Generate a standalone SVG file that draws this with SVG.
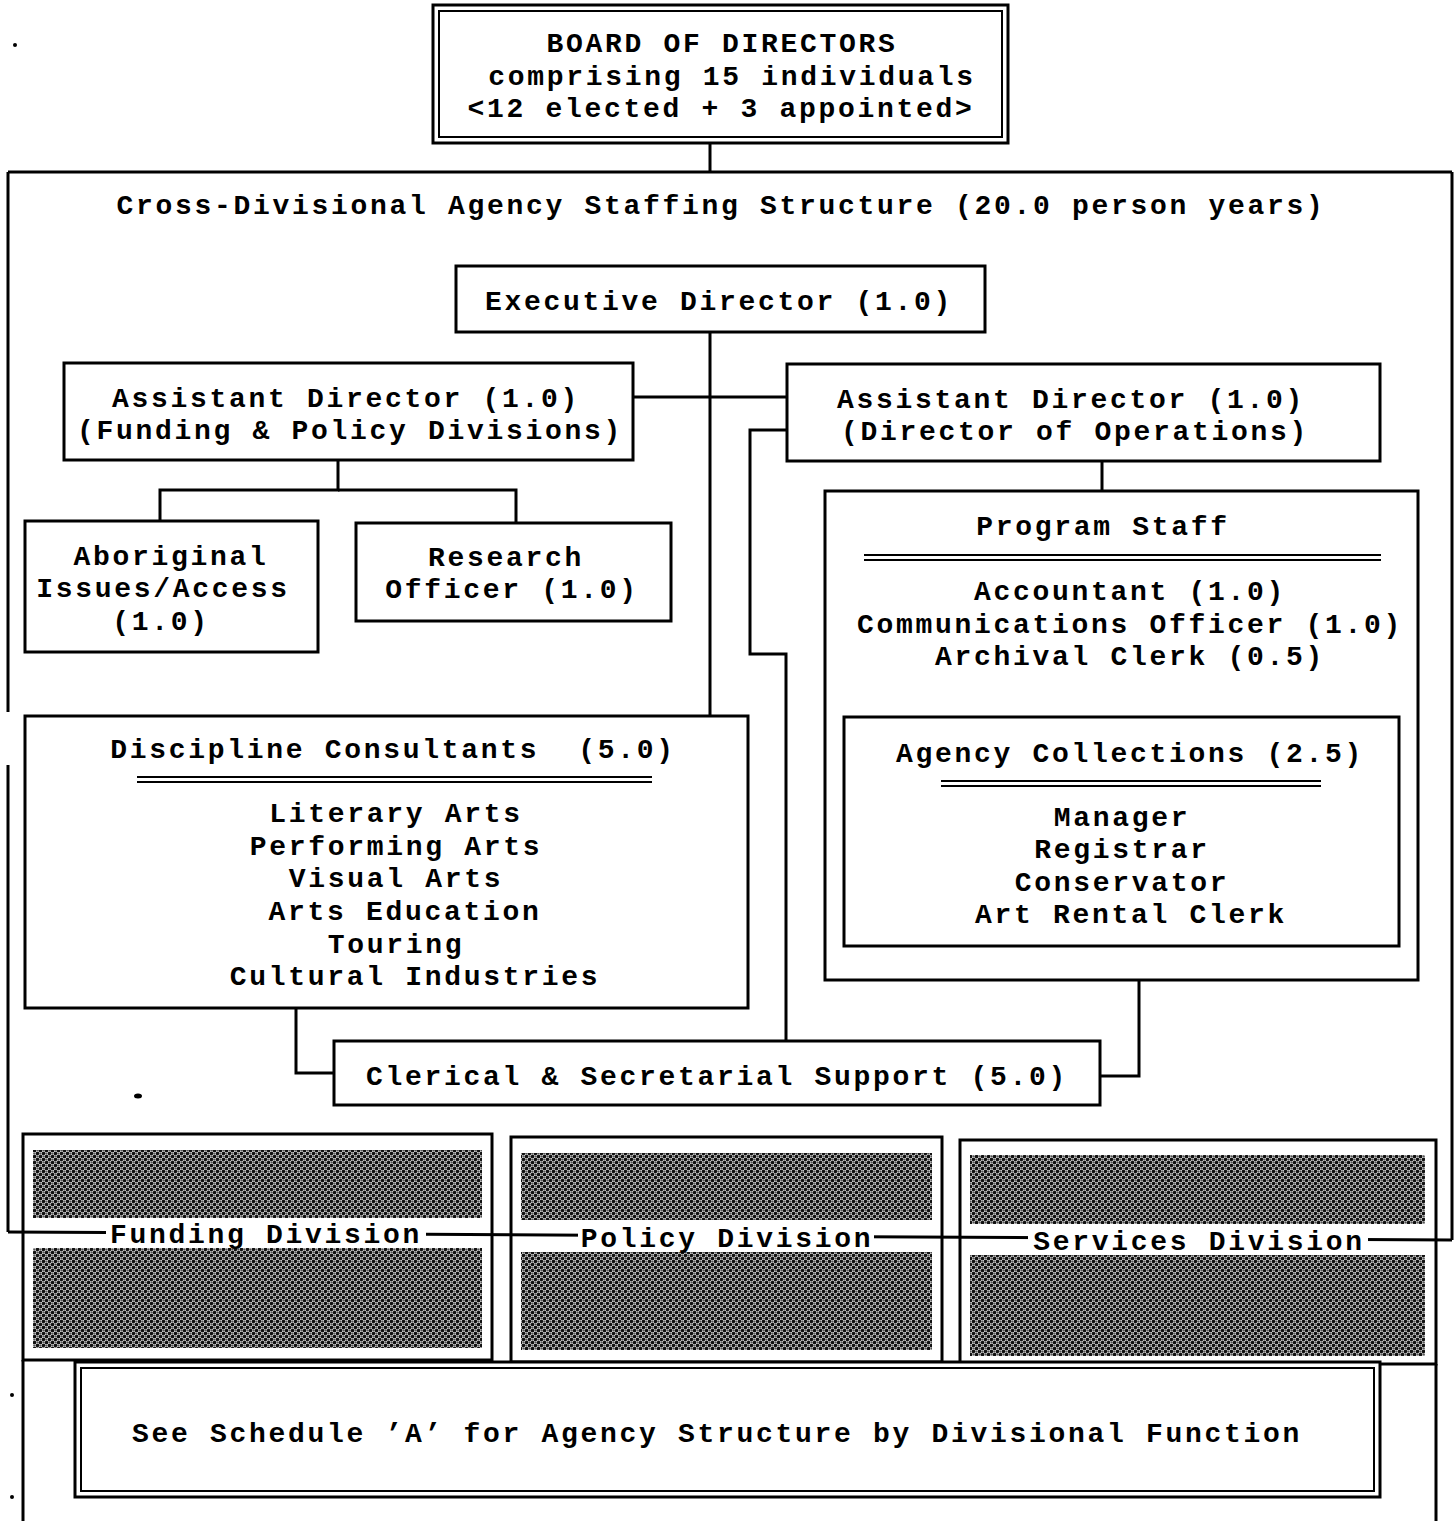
<svg xmlns="http://www.w3.org/2000/svg" width="1456" height="1521" viewBox="0 0 1456 1521">
<defs>
<pattern id="hatch" width="6" height="6" patternUnits="userSpaceOnUse">
<rect width="6" height="6" fill="#d0d0d0"/>
<circle cx="1.5" cy="1.5" r="1.8" fill="#111"/>
<circle cx="4.5" cy="4.5" r="1.8" fill="#111"/>
<circle cx="4.5" cy="1.5" r="1.1" fill="#555"/>
<circle cx="1.5" cy="4.5" r="1.1" fill="#555"/>
</pattern>
</defs>
<style>
text{font-family:"Liberation Mono","Courier New",monospace;font-weight:bold;font-size:28px;letter-spacing:2.7px;fill:#000;text-anchor:middle}
.box{fill:#fff;stroke:#000;stroke-width:3}
.thin{fill:none;stroke:#000;stroke-width:2}
.ln{fill:none;stroke:#000;stroke-width:3}
.hatch{fill:url(#hatch);stroke:none}
.bg{fill:#fff;stroke:none}
</style>
<rect width="1456" height="1521" fill="#fff"/>

<g id="outer-frame">
<line class="ln" x1="8" y1="172" x2="1452" y2="172"/>
<line class="ln" x1="8" y1="172" x2="8" y2="712"/>
<line class="ln" x1="8" y1="765" x2="8" y2="1232"/>
<line class="ln" x1="1452" y1="172" x2="1452" y2="1240"/>
<text x="721" y="214">Cross-Divisional Agency Staffing Structure (20.0 person years)</text>
</g>

<g id="connectors">
<line class="ln" x1="710" y1="143" x2="710" y2="172"/>
<line class="ln" x1="710" y1="332" x2="710" y2="716"/>
<line class="ln" x1="633" y1="397" x2="787" y2="397"/>
<polyline class="ln" points="338,460 338,490 160,490 160,521"/>
<polyline class="ln" points="338,490 516,490 516,523"/>
<polyline class="ln" points="787,430 750,430 750,654 786,654 786,1041"/>
<line class="ln" x1="1102" y1="461" x2="1102" y2="491"/>
<polyline class="ln" points="296,1008 296,1073 334,1073"/>
<polyline class="ln" points="1139,980 1139,1076 1100,1076"/>
</g>

<g id="board">
<rect class="box" x="433" y="5" width="575" height="138"/>
<rect class="thin" x="439" y="11" width="563" height="126"/>
<text x="722" y="52">BOARD OF DIRECTORS</text>
<text x="732" y="85">comprising 15 individuals</text>
<text x="721" y="117">&lt;12 elected + 3 appointed&gt;</text>
</g>

<g id="executive-director">
<rect class="box" x="456" y="266" width="529" height="66"/>
<text x="719" y="310">Executive Director (1.0)</text>
</g>

<g id="ad-funding-policy">
<rect class="box" x="64" y="363" width="569" height="97"/>
<text x="346" y="407">Assistant Director (1.0)</text>
<text x="350" y="439">(Funding &amp; Policy Divisions)</text>
</g>

<g id="ad-operations">
<rect class="box" x="787" y="364" width="593" height="97"/>
<text x="1071" y="408">Assistant Director (1.0)</text>
<text x="1075" y="440">(Director of Operations)</text>
</g>

<g id="aboriginal">
<rect class="box" x="25" y="521" width="293" height="131"/>
<text x="171" y="565">Aboriginal</text>
<text x="163" y="597">Issues/Access</text>
<text x="161" y="630">(1.0)</text>
</g>

<g id="research">
<rect class="box" x="356" y="523" width="315" height="98"/>
<text x="506" y="566">Research</text>
<text x="512" y="598">Officer (1.0)</text>
</g>

<g id="program-staff">
<rect class="box" x="825" y="491" width="593" height="489"/>
<text x="1103" y="535">Program Staff</text>
<line class="thin" x1="864" y1="555" x2="1381" y2="555"/>
<line class="thin" x1="864" y1="560" x2="1381" y2="560"/>
<text x="1130" y="600">Accountant (1.0)</text>
<text x="1130" y="633">Communications Officer (1.0)</text>
<text x="1130" y="665">Archival Clerk (0.5)</text>
</g>

<g id="agency-collections">
<rect class="box" x="844" y="717" width="555" height="229"/>
<text x="1130" y="762">Agency Collections (2.5)</text>
<line class="thin" x1="941" y1="781" x2="1321" y2="781"/>
<line class="thin" x1="941" y1="786" x2="1321" y2="786"/>
<text x="1122" y="826">Manager</text>
<text x="1122" y="858">Registrar</text>
<text x="1122" y="891">Conservator</text>
<text x="1131" y="923">Art Rental Clerk</text>
</g>

<g id="discipline-consultants">
<rect class="box" x="25" y="716" width="723" height="292"/>
<text x="393" y="758" xml:space="preserve">Discipline Consultants  (5.0)</text>
<line class="thin" x1="137" y1="777" x2="652" y2="777"/>
<line class="thin" x1="137" y1="782" x2="652" y2="782"/>
<text x="396" y="822">Literary Arts</text>
<text x="396" y="855">Performing Arts</text>
<text x="396" y="887">Visual Arts</text>
<text x="405" y="920">Arts Education</text>
<text x="396" y="953">Touring</text>
<text x="415" y="985">Cultural Industries</text>
</g>

<g id="clerical">
<rect class="box" x="334" y="1041" width="766" height="64"/>
<text x="717" y="1085">Clerical &amp; Secretarial Support (5.0)</text>
</g>

<g id="funding-division">
<rect class="box" x="23" y="1134" width="469" height="226"/>
<line class="ln" x1="23" y1="1360" x2="23" y2="1521"/>
<rect class="hatch" x="33" y="1150" width="449" height="68"/>
<rect class="hatch" x="33" y="1248" width="449" height="100"/>
</g>

<g id="policy-division">
<rect class="box" x="511" y="1137" width="431" height="225"/>
<rect class="hatch" x="521" y="1153" width="411" height="67"/>
<rect class="hatch" x="521" y="1252" width="411" height="98"/>
</g>

<g id="services-division">
<rect class="box" x="960" y="1140" width="476" height="224"/>
<line class="ln" x1="1436" y1="1364" x2="1436" y2="1521"/>
<rect class="hatch" x="970" y="1155" width="455" height="69"/>
<rect class="hatch" x="970" y="1255" width="455" height="101"/>
</g>

<g id="division-line">
<line class="ln" x1="8" y1="1232" x2="1452" y2="1240"/>
<rect class="bg" x="106" y="1222" width="320" height="22"/>
<text x="266" y="1243">Funding Division</text>
<rect class="bg" x="578" y="1226" width="296" height="22"/>
<text x="727" y="1247">Policy Division</text>
<rect class="bg" x="1028" y="1229" width="340" height="22"/>
<text x="1199" y="1250">Services Division</text>
</g>

<g id="schedule">
<rect class="box" x="75" y="1362" width="1305" height="135"/>
<rect class="thin" x="81" y="1368" width="1293" height="123"/>
<text x="717" y="1442">See Schedule ’A’ for Agency Structure by Divisional Function</text>
</g>

<g id="specks" fill="#000">
<circle cx="15" cy="45" r="2"/>
<ellipse cx="138" cy="1096" rx="4" ry="2.5"/>
<circle cx="12" cy="1395" r="2"/>
<circle cx="12" cy="1497" r="2"/>
</g>
</svg>
